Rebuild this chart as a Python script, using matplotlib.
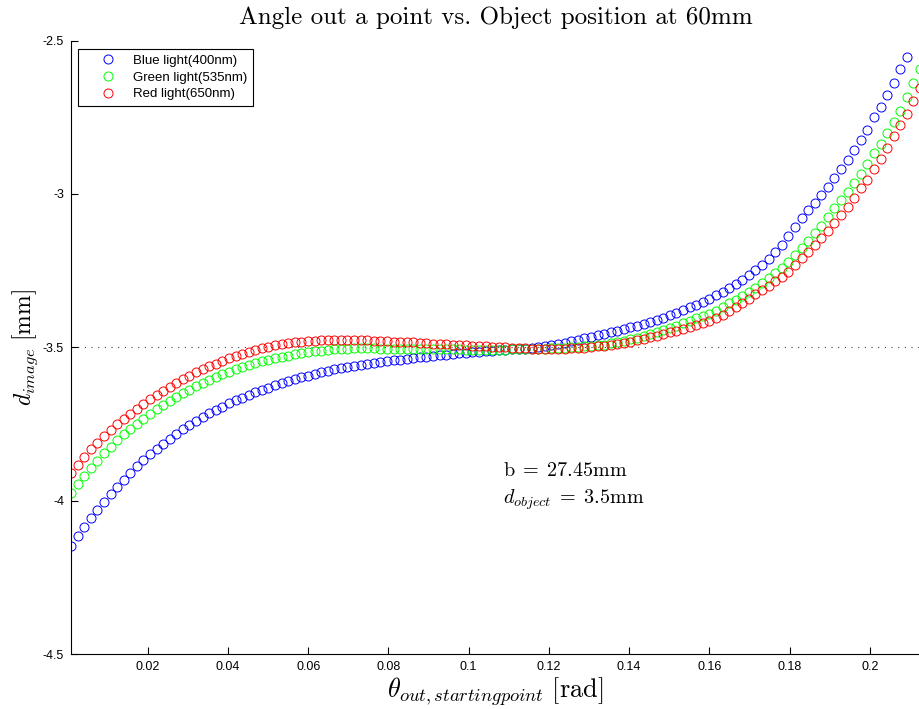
import numpy as np
import matplotlib
matplotlib.use('Agg')
import matplotlib.pyplot as plt

plt.rcParams['mathtext.fontset'] = 'cm'
plt.rcParams['axes.unicode_minus'] = False

# sample angles (rad), first and last point of the scan
theta_start = 0.00088
theta_end = 0.2125
n_points = 130

blue_400 = [
    -4.147, -4.115, -4.085, -4.056, -4.029, -4.003, -3.978, -3.954, -3.931, -3.909,
    -3.888, -3.868, -3.849, -3.831, -3.814, -3.798, -3.782, -3.767, -3.753, -3.740,
    -3.727, -3.715, -3.704, -3.693, -3.683, -3.673, -3.664, -3.655, -3.647, -3.639,
    -3.631, -3.624, -3.617, -3.610, -3.604, -3.598, -3.592, -3.587, -3.582, -3.577,
    -3.572, -3.568, -3.564, -3.560, -3.556, -3.553, -3.550, -3.547, -3.544, -3.542,
    -3.540, -3.537, -3.535, -3.532, -3.530, -3.528, -3.526, -3.524, -3.522, -3.520,
    -3.518, -3.516, -3.514, -3.513, -3.511, -3.510, -3.508, -3.507, -3.505, -3.504,
    -3.502, -3.500, -3.497, -3.493, -3.489, -3.485, -3.480, -3.476, -3.471, -3.466,
    -3.461, -3.456, -3.451, -3.446, -3.441, -3.435, -3.430, -3.424, -3.418, -3.411,
    -3.404, -3.396, -3.388, -3.379, -3.370, -3.361, -3.351, -3.341, -3.330, -3.318,
    -3.306, -3.293, -3.279, -3.264, -3.248, -3.230, -3.211, -3.190, -3.166, -3.138,
    -3.107, -3.080, -3.051, -3.028, -3.004, -2.977, -2.948, -2.918, -2.890, -2.857,
    -2.823, -2.790, -2.750, -2.715, -2.677, -2.637, -2.594, -2.552, -2.470, -2.430,
]

green_535 = [
    -3.976, -3.947, -3.919, -3.893, -3.869, -3.846, -3.824, -3.803, -3.784, -3.766,
    -3.749, -3.732, -3.716, -3.701, -3.687, -3.674, -3.661, -3.649, -3.638, -3.627,
    -3.616, -3.606, -3.597, -3.588, -3.580, -3.572, -3.565, -3.558, -3.552, -3.546,
    -3.541, -3.536, -3.531, -3.527, -3.523, -3.519, -3.516, -3.513, -3.511, -3.509,
    -3.507, -3.505, -3.504, -3.503, -3.503, -3.503, -3.503, -3.504, -3.504, -3.504,
    -3.505, -3.505, -3.505, -3.506, -3.506, -3.506, -3.507, -3.507, -3.507, -3.507,
    -3.508, -3.508, -3.508, -3.508, -3.508, -3.508, -3.508, -3.507, -3.507, -3.506,
    -3.506, -3.505, -3.504, -3.503, -3.502, -3.501, -3.500, -3.499, -3.497, -3.495,
    -3.493, -3.491, -3.487, -3.483, -3.479, -3.474, -3.469, -3.463, -3.457, -3.450,
    -3.443, -3.436, -3.429, -3.421, -3.413, -3.405, -3.397, -3.390, -3.381, -3.369,
    -3.357, -3.345, -3.333, -3.319, -3.305, -3.290, -3.275, -3.259, -3.243, -3.222,
    -3.199, -3.177, -3.153, -3.128, -3.104, -3.074, -3.047, -3.020, -2.993, -2.965,
    -2.936, -2.904, -2.868, -2.836, -2.802, -2.767, -2.730, -2.684, -2.639, -2.593,
]

red_650 = [
    -3.909, -3.882, -3.857, -3.833, -3.811, -3.790, -3.770, -3.751, -3.733, -3.716,
    -3.700, -3.684, -3.669, -3.655, -3.641, -3.628, -3.616, -3.604, -3.593, -3.582,
    -3.572, -3.562, -3.553, -3.544, -3.536, -3.528, -3.521, -3.514, -3.508, -3.503,
    -3.498, -3.494, -3.490, -3.487, -3.484, -3.482, -3.480, -3.478, -3.477, -3.476,
    -3.475, -3.475, -3.475, -3.475, -3.476, -3.477, -3.478, -3.479, -3.480, -3.481,
    -3.482, -3.483, -3.484, -3.485, -3.487, -3.488, -3.489, -3.490, -3.491, -3.492,
    -3.494, -3.495, -3.496, -3.497, -3.498, -3.499, -3.500, -3.501, -3.502, -3.503,
    -3.504, -3.504, -3.505, -3.505, -3.505, -3.504, -3.503, -3.502, -3.501, -3.499,
    -3.497, -3.495, -3.492, -3.489, -3.485, -3.481, -3.477, -3.472, -3.467, -3.462,
    -3.456, -3.450, -3.446, -3.440, -3.434, -3.427, -3.420, -3.413, -3.405, -3.393,
    -3.380, -3.367, -3.354, -3.341, -3.327, -3.313, -3.299, -3.285, -3.270, -3.253,
    -3.231, -3.210, -3.188, -3.167, -3.144, -3.120, -3.094, -3.069, -3.042, -3.012,
    -2.981, -2.954, -2.920, -2.886, -2.850, -2.810, -2.775, -2.740, -2.698, -2.655,
]

series = [
    ('Blue light(400nm)', blue_400, (0, 0, 1)),
    ('Green light(535nm)', green_535, (0, 1, 0)),
    ('Red light(650nm)', red_650, (1, 0, 0)),
]

x_ticks = [0.02, 0.04, 0.06, 0.08, 0.1, 0.12, 0.14, 0.16, 0.18, 0.2]
x_tick_labels = ['0.02', '0.04', '0.06', '0.08', '0.1', '0.12', '0.14', '0.16', '0.18', '0.2']
y_ticks = [-4.5, -4, -3.5, -3, -2.5]
y_tick_labels = ['-4.5', '-4', '-3.5', '-3', '-2.5']
d_ref = -3.5

theta = np.linspace(theta_start, theta_end, n_points)

fig = plt.figure(figsize=(9.2, 7.09), dpi=100, facecolor='white')
ax = fig.add_axes([0.0772, 0.0774, 0.9228, 0.8654])

ax.plot([theta[0], theta[-1]], [d_ref, d_ref], color='0.25', lw=0.8,
        linestyle=(0, (1, 5)), zorder=1)

for label, vals, col in series:
    ax.plot(theta, vals, linestyle='none', marker='o', markersize=6.5,
            markerfacecolor='none', markeredgecolor=col, markeredgewidth=0.7,
            label=label, zorder=2)

ax.set_xlim(theta[0], theta[-1])
ax.set_ylim(-4.5, -2.5)
ax.set_xticks(x_ticks)
ax.set_xticklabels(x_tick_labels, family='Liberation Sans', fontsize=9)
ax.set_yticks(y_ticks)
ax.set_yticklabels(y_tick_labels, family='Liberation Sans', fontsize=9)
ax.tick_params(direction='in', length=5, width=0.8, top=False, right=False, pad=5)

for side in ['top', 'right']:
    ax.spines[side].set_visible(False)
for side in ['left', 'bottom']:
    ax.spines[side].set_linewidth(0.8)

ax.set_title('Angle out a point vs. Object position at 60mm', family='cmr10',
             fontsize=18, pad=12)
ax.set_xlabel(r'$\theta_{out,startingpoint}\ \mathrm{[rad]}$', fontsize=19, labelpad=2)
ax.set_ylabel(r'$d_{image}\ \mathrm{[mm]}$', fontsize=17)
ax.yaxis.set_label_coords(-0.036, 0.5)

ax.text(0.1085, -3.90, r'$\mathrm{b}\;=\;27.45\mathrm{mm}$', fontsize=14.5, va='center')
ax.text(0.1085, -3.995, r'$d_{object}\;=\;3.5\mathrm{mm}$', fontsize=14.5, va='center')

leg = ax.legend(loc='upper left', bbox_to_anchor=(0.008, 0.986), borderaxespad=0,
                prop={'family': 'Liberation Sans', 'size': 9.5}, fancybox=False,
                framealpha=1, edgecolor='black', handlelength=3.7, handletextpad=0.1,
                borderpad=0.4, labelspacing=0.35, numpoints=1)
leg.get_frame().set_linewidth(0.8)

fig.savefig('out.png', dpi=100, facecolor='white')
